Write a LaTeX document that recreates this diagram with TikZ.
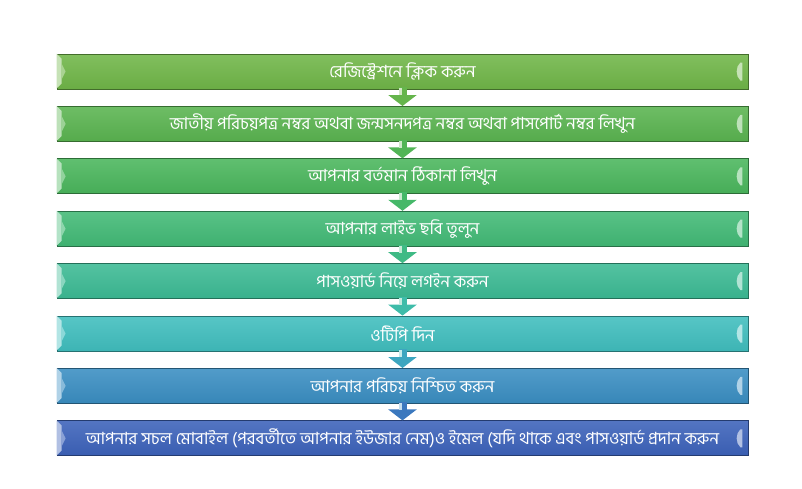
\documentclass[tikz,border=0pt]{standalone}
\usepackage{fontspec}
\usepackage{xcolor}
\usetikzlibrary{arrows.meta}
\usetikzlibrary{calc}
\newfontfamily\bnfont[Script=Bengali]{Hind Siliguri}
\definecolor{box1}{RGB}{112,182,72}
\definecolor{box2}{RGB}{90,180,80}
\definecolor{box3}{RGB}{74,182,92}
\definecolor{box4}{RGB}{66,186,118}
\definecolor{box5}{RGB}{60,186,148}
\definecolor{box6}{RGB}{64,190,190}
\definecolor{box7}{RGB}{58,142,194}
\definecolor{box8}{RGB}{60,98,186}
\tikzset{
	stepbox/.style={rectangle,minimum width=691pt,minimum height=35pt,inner sep=0pt,
		top color=#1!88!white,bottom color=#1!95!black,draw=#1!60!black,line width=.8pt,
		text=white,font=\bnfont\fontsize{16.8}{18}\selectfont},
	flowarrow/.style={line width=8pt,draw=#1,-{Triangle[width=28pt,length=11pt]}},
	bevel/.style={fill=#1!40!white,draw=none}
}
\begin{document}
\begin{tikzpicture}[x=1pt,y=-1pt]
	\useasboundingbox (0,0) rectangle (802,488);
		%Steps
			\foreach \i/\txt in {1/রেজিস্ট্রেশনে ক্লিক করুন,
				2/জাতীয় পরিচয়পত্র নম্বর অথবা জন্মসনদপত্র নম্বর অথবা পাসপোর্ট নম্বর লিখুন,
				3/আপনার বর্তমান ঠিকানা লিখুন,
				4/আপনার লাইভ ছবি তুলুন,
				5/পাসওয়ার্ড নিয়ে লগইন করুন,
				6/ওটিপি দিন,
				7/আপনার পরিচয় নিশ্চিত করুন,
				8/আপনার সচল মোবাইল (পরবর্তীতে আপনার ইউজার নেম)ও ইমেল (যদি থাকে এবং পাসওয়ার্ড প্রদান করুন}
			{
				\node[stepbox=box\i] (s\i) at (402.5,54+52.4*\i-52.4+17.5) {\txt};
				%Bevels
				\path[bevel=box\i] (s\i.north west) -- ++(5,5) -- ++(0,25) -- ++(-5,5) -- cycle;
				\path[fill=box\i!60!white] ($(s\i.west)+(5,-8)$) -- ++(4,8) -- ++(-4,8) -- cycle;
				\path[bevel=box\i] ($(s\i.east)+(-8,-9)$) .. controls ++(-5,4) and ++(-5,-4) .. ++(0,18) -- ++(2,0) -- ++(0,-18) -- cycle;
			}
		%Arrows
			\foreach \i [evaluate=\i as \j using int(\i+1)] in {1,...,7}
			{
				\draw[flowarrow=box\i!50!box\j] ($(s\i.south)+(0,-2)$) -- (s\j.north);
				\draw[line width=3pt,box\i!30!white] ($(s\i.south)+(-2,-1)$) -- ++(0,7);
			}
	\end{tikzpicture}
\end{document}
